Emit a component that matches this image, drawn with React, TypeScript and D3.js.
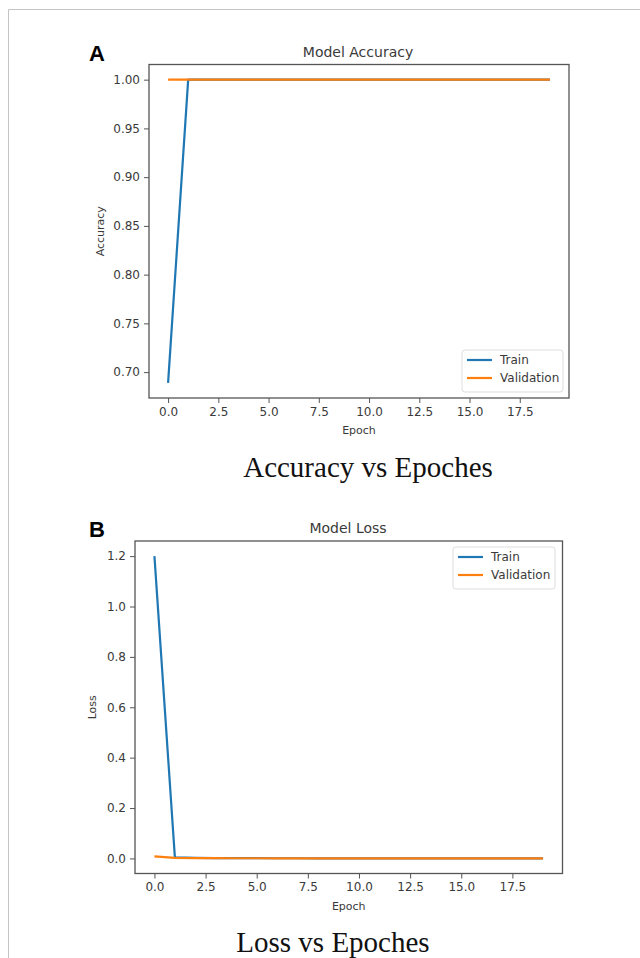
import React, { useRef, useEffect } from 'react';
import * as d3 from 'd3';

const epochs = d3.range(0, 20);

const trainAccuracy = [0.689, 1, 1, 1, 1, 1, 1, 1, 1, 1, 1, 1, 1, 1, 1, 1, 1, 1, 1, 1];
const valAccuracy = [1, 1, 1, 1, 1, 1, 1, 1, 1, 1, 1, 1, 1, 1, 1, 1, 1, 1, 1, 1];

const trainLoss = [1.2, 0.004, 0.002, 0.001, 0.001, 0.001, 0.0008, 0.0007, 0.0006, 0.0005, 0.0005, 0.0004, 0.0004, 0.0003, 0.0003, 0.0003, 0.0003, 0.0002, 0.0002, 0.0002];
const valLoss = [0.008, 0.002, 0.001, 0.001, 0.0008, 0.0007, 0.0006, 0.0005, 0.0005, 0.0004, 0.0004, 0.0003, 0.0003, 0.0003, 0.0003, 0.0002, 0.0002, 0.0002, 0.0002, 0.0002];

const accTicks = [0.7, 0.75, 0.8, 0.85, 0.9, 0.95, 1.0];
const lossTicks = [0, 0.2, 0.4, 0.6, 0.8, 1.0, 1.2];
const epochTicks = [0, 2.5, 5, 7.5, 10, 12.5, 15, 17.5];

const seriesNames = ['Train', 'Validation'];
const colors = ['#1f77b4', '#ff7f0e'];

const font = '"DejaVu Sans", sans-serif';
const textColor = '#3a3a3a';
const axisColor = '#555';

function drawPanel(svg, opts) {
  const { box, train, val, yTicks, yFormat, title, ylabel, letter, caption, legend, titleX, ylabelX, captionX } = opts;
  const all = train.concat(val);
  const ymin = d3.min(all), ymax = d3.max(all);
  const ypad = (ymax - ymin) * 0.05;
  const x = d3.scaleLinear().domain([-0.95, 19.95]).range([box.left, box.right]);
  const y = d3.scaleLinear().domain([ymin - ypad, ymax + ypad]).range([box.bottom, box.top]);

  const g = svg.append('g');

  // lines
  const line = d3.line().x((d, i) => x(epochs[i])).y(d => y(d));
  [train, val].forEach((s, k) => {
    g.append('path')
      .attr('d', line(s))
      .attr('fill', 'none')
      .attr('stroke', colors[k])
      .attr('stroke-width', 2.2)
      .attr('stroke-linejoin', 'round');
  });

  // axes
  const xAxis = d3.axisBottom(x).tickValues(epochTicks).tickFormat(d3.format('.1f')).tickSize(5).tickPadding(4);
  const yAxis = d3.axisLeft(y).tickValues(yTicks).tickFormat(d3.format(yFormat)).tickSize(5).tickPadding(4);

  const gx = g.append('g').attr('transform', `translate(0,${box.bottom})`).call(xAxis);
  const gy = g.append('g').attr('transform', `translate(${box.left},0)`).call(yAxis);
  [gx, gy].forEach(a => {
    a.select('.domain').remove();
    a.selectAll('line').attr('stroke', axisColor).attr('stroke-width', 1);
    a.selectAll('text').attr('fill', textColor).style('font-family', font).style('font-size', '12px');
  });

  g.append('rect')
    .attr('x', box.left).attr('y', box.top)
    .attr('width', box.right - box.left).attr('height', box.bottom - box.top)
    .attr('fill', 'none').attr('stroke', axisColor).attr('stroke-width', 1.3);

  // titles
  g.append('text').attr('x', titleX).attr('y', box.top - 8)
    .attr('text-anchor', 'middle').attr('fill', textColor)
    .style('font-family', font).style('font-size', '14px').text(title);
  g.append('text').attr('x', 97).attr('y', box.top - 4)
    .attr('text-anchor', 'middle').attr('fill', '#000')
    .style('font-family', '"Liberation Sans", Arial, sans-serif').style('font-weight', 'bold').style('font-size', '22px').text(letter);
  g.append('text').attr('x', (box.left + box.right) / 2).attr('y', box.bottom + 36)
    .attr('text-anchor', 'middle').attr('fill', textColor)
    .style('font-family', font).style('font-size', '11px').text('Epoch');
  g.append('text')
    .attr('transform', `translate(${ylabelX},${(box.top + box.bottom) / 2}) rotate(-90)`)
    .attr('text-anchor', 'middle').attr('fill', textColor)
    .style('font-family', font).style('font-size', '11px').text(ylabel);

  // legend
  const lg = g.append('g').attr('transform', `translate(${legend.x},${legend.y})`);
  lg.append('rect').attr('width', legend.w).attr('height', 42).attr('rx', 3)
    .attr('fill', '#fff').attr('stroke', '#ddd');
  seriesNames.forEach((n, i) => {
    const ly = 10 + i * 18;
    lg.append('line').attr('x1', 5).attr('x2', 30).attr('y1', ly).attr('y2', ly)
      .attr('stroke', colors[i]).attr('stroke-width', 2.2);
    lg.append('text').attr('x', 38).attr('y', ly + 4).attr('fill', textColor)
      .style('font-family', font).style('font-size', '12px').text(n);
  });

  // caption
  g.append('text').attr('x', captionX).attr('y', caption.y)
    .attr('text-anchor', 'middle').attr('fill', '#111')
    .style('font-family', '"Liberation Serif", "Times New Roman", serif').style('font-size', '29px').text(caption.text);
}

const App = () => {
  const svgRef = useRef(null);

  useEffect(() => {
    const svg = d3.select(svgRef.current);
    svg.selectAll('*').remove();

    svg.append('path').attr('d', 'M8.5,958 V9.5 H640')
      .attr('fill', 'none').attr('stroke', '#c4c4c4').attr('stroke-width', 1);

    drawPanel(svg, {
      box: { left: 149, right: 569, top: 64.5, bottom: 398 },
      train: trainAccuracy, val: valAccuracy,
      yTicks: accTicks, yFormat: '.2f',
      title: 'Model Accuracy', ylabel: 'Accuracy', letter: 'A',
      titleX: 358, ylabelX: 104, captionX: 368,
      legend: { x: 462, y: 350, w: 101 },
      caption: { y: 477, text: 'Accuracy vs Epoches' },
    });

    drawPanel(svg, {
      box: { left: 135, right: 562.5, top: 541, bottom: 873.5 },
      train: trainLoss, val: valLoss,
      yTicks: lossTicks, yFormat: '.1f',
      title: 'Model Loss', ylabel: 'Loss', letter: 'B',
      titleX: 348, ylabelX: 96, captionX: 333,
      legend: { x: 453, y: 547, w: 102 },
      caption: { y: 952, text: 'Loss vs Epoches' },
    });
  }, []);

  return (
    <svg ref={svgRef} width={640} height={958}
      style={{ position: 'absolute', left: 0, top: 0, background: '#fff' }} />
  );
};

export default App;
